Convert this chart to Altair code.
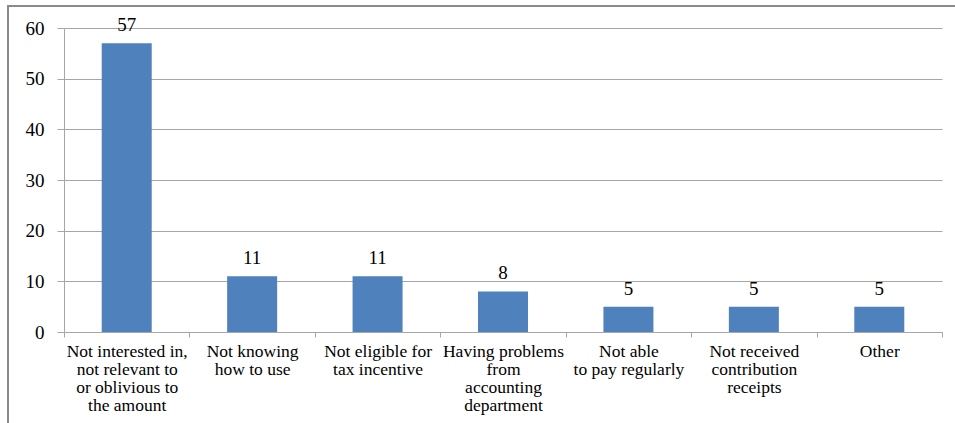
import altair as alt
import pandas as pd

categories = [
    "Not interested in,\nnot relevant to\nor oblivious to\nthe amount",
    "Not knowing\nhow to use",
    "Not eligible for\ntax incentive",
    "Having problems\nfrom\naccounting\ndepartment",
    "Not able\nto pay regularly",
    "Not received\ncontribution\nreceipts",
    "Other",
]
values = [57, 11, 11, 8, 5, 5, 5]
y_ticks = [0, 10, 20, 30, 40, 50, 60]

df = pd.DataFrame({"category": categories, "value": values})

FONT = "Times New Roman, Liberation Serif, DejaVu Serif, serif"
GRID = "#A6A6A6"

x_enc = alt.X(
    "category:N",
    sort=None,
    title=None,
    scale=alt.Scale(paddingInner=0, paddingOuter=0),
    axis=alt.Axis(
        labelExpr="split(datum.label, '\\n')",
        labelAngle=0,
        labelFont=FONT,
        labelFontSize=17.5,
        labelLineHeight=18,
        labelColor="#000000",
        labelBaseline="top",
        labelPadding=5,
        labelLimit=200,
        tickBand="extent",
        tickSize=5,
        tickColor=GRID,
        domainColor=GRID,
        grid=False,
    ),
)

y_enc = alt.Y(
    "value:Q",
    title=None,
    scale=alt.Scale(domain=[0, 60], nice=False),
    axis=alt.Axis(
        values=y_ticks,
        labelFont=FONT,
        labelFontSize=19,
        labelColor="#000000",
        labelPadding=13,
        tickSize=7,
        tickColor=GRID,
        domainColor=GRID,
        gridColor=GRID,
        grid=True,
    ),
)

bars = alt.Chart(df).mark_bar(size=50, color="#4F81BD").encode(x=x_enc, y=y_enc)

texts = alt.Chart(df).mark_text(
    font=FONT, fontSize=19, color="#000000", baseline="alphabetic", dy=-12
).encode(x=alt.X("category:N", sort=None), y="value:Q", text="value:Q")

frame = alt.Data(values=[{"a": 1}])
left_border = alt.Chart(frame).mark_rule(color="#8A8A8A", strokeWidth=2).encode(
    x=alt.value(-56), y=alt.value(-22), y2=alt.value(400)
)
top_border = alt.Chart(frame).mark_rule(color="#8A8A8A", strokeWidth=2).encode(
    x=alt.value(-57), x2=alt.value(900), y=alt.value(-22)
)

chart = (
    alt.layer(bars, texts, left_border, top_border)
    .properties(
        width=878,
        height=304,
        autosize=alt.AutoSizeParams(type="none"),
        padding={"left": 64, "top": 28, "right": 13, "bottom": 91},
        background="#FFFFFF",
    )
    .configure_view(stroke=None)
)

chart.save("out.html", embed_options={"renderer": "svg", "actions": False})
